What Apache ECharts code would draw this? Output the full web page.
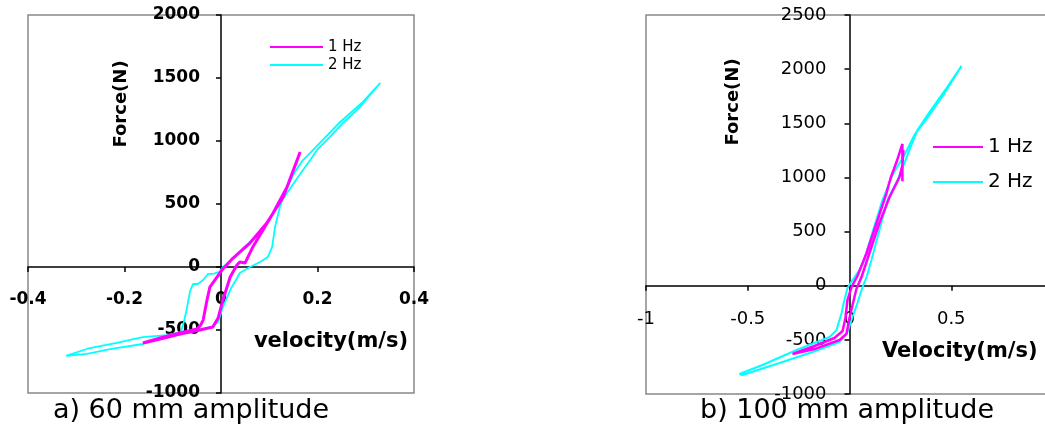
<!DOCTYPE html>
<html>
<head>
<meta charset="utf-8">
<script src="https://cdn.jsdelivr.net/npm/echarts@6/dist/echarts.min.js"></script>
<style>
  html, body { margin: 0; padding: 0; background: #fff; }
  #chart { width: 1045px; height: 445px; }
</style>
</head>
<body>
<div id="chart"></div>
<script>
// a) 60 mm amplitude -- velocity (m/s) / force (N), read off the loops
const leftVel2Hz = [0.330, 0.294, 0.247, 0.211, 0.185, 0.170, 0.153, 0.137, 0.122, 0.112, 0.106, 0.097, 0.081, 0.060, 0.039, 0.031, 0.021, 0.010, 0.002, -0.006, -0.019, -0.044, -0.081, -0.126, -0.162, -0.230, -0.278, -0.321,
  -0.272, -0.216, -0.162, -0.112, -0.083, -0.077, -0.071, -0.064, -0.058, -0.048, -0.037, -0.027, -0.015, -0.004, 0.004, 0.029, 0.046, 0.081, 0.108, 0.137, 0.164, 0.185, 0.199, 0.226, 0.253, 0.288, 0.330]
const leftForce2Hz = [1460, 1310, 1151, 1008, 905, 849, 754, 635, 476, 317, 159, 79, 40, 0, -48, -103, -167, -262, -341, -437, -476, -496, -532, -571, -611, -651, -690, -706,
  -643, -603, -556, -540, -516, -437, -333, -190, -135, -135, -103, -56, -52, -40, 0, 79, 151, 270, 429, 587, 738, 849, 929, 1032, 1143, 1270, 1460]
const leftVel1Hz = [0.164, 0.137, 0.108, 0.087, 0.066, 0.050, 0.039, 0.033, 0.019, 0.004, -0.006, -0.017, -0.044, -0.085, -0.126, -0.162,
  -0.126, -0.085, -0.050, -0.042, -0.037, -0.029, -0.023, -0.008, 0.002, 0.025, 0.060, 0.095, 0.129, 0.164]
const leftForce1Hz = [913, 635, 429, 294, 159, 32, 40, 16, -79, -262, -405, -476, -500, -532, -571, -603,
  -564, -524, -492, -460, -421, -262, -159, -79, -24, 71, 190, 349, 556, 913]

// b) 100 mm amplitude
const rightVel2Hz = [-0.541, -0.428, -0.260, -0.098, -0.064, -0.039, -0.025, -0.010, 0.015, 0.049, 0.069, 0.113, 0.162, 0.211, 0.270, 0.319, 0.383, 0.467, 0.550,
  0.477, 0.393, 0.334, 0.300, 0.270, 0.236, 0.187, 0.147, 0.108, 0.084, 0.064, 0.039, 0.015, -0.010, -0.049, -0.182, -0.344, -0.526, -0.541]
const rightForce2Hz = [-815, -732, -594, -474, -410, -252, -132, -21, 53, 145, 219, 496, 791, 1022, 1207, 1392, 1549, 1779, 2028,
  1826, 1604, 1438, 1281, 1133, 976, 791, 514, 237, 80, -12, -160, -289, -428, -520, -612, -714, -825, -815]
const rightVel1Hz = [0.260, 0.260, 0.231, 0.202, 0.182, 0.133, 0.084, 0.039, 0.010, -0.010, -0.020, -0.034, -0.074, -0.172, -0.280,
  -0.172, -0.049, -0.015, 0.000, 0.015, 0.034, 0.059, 0.098, 0.147, 0.197, 0.246, 0.260, 0.265]
const rightForce1Hz = [965, 1309, 1142, 995, 856, 579, 302, 90, -12, -132, -298, -418, -483, -557, -631,
  -585, -501, -446, -298, -178, -31, 80, 302, 579, 819, 1004, 1114, 1253]

// axis ranges [min, max, interval]
const leftXRange = [-0.4, 0.4, 0.2]
const leftYRange = [-1000, 2000, 500]
const rightXRange = [-1, 1, 0.5]
const rightYRange = [-1000, 2500, 500]

const seriesNames = ['1 Hz', '2 Hz']
const captions = ['a) 60 mm amplitude', 'b) 100 mm amplitude']

const MAGENTA = '#FF00FF'
const CYAN = '#00FFFF'
const FONT = 'DejaVu Sans'

const grids = [
  { left: 28, top: 15, width: 386, height: 378 },
  { left: 646, top: 15, width: 407, height: 379 },
]

const zip = (xs, ys) => xs.map((x, i) => [x, ys[i]])

// axes cross at zero: shift the axis from the grid edge into the plot
const zeroOffsetX = (g, r) => -g.width * (0 - r[0]) / (r[1] - r[0])
const zeroOffsetY = (g, r) => -g.height * (0 - r[0]) / (r[1] - r[0])

const makeAxis = (range, gridIndex, offset, label) => ({
  type: 'value',
  gridIndex,
  min: range[0],
  max: range[1],
  interval: range[2],
  offset,
  axisLine: { onZero: false, lineStyle: { color: '#000', width: 1.5 } },
  axisTick: { length: 5, lineStyle: { color: '#000', width: 1.5 } },
  splitLine: { show: false },
  axisLabel: Object.assign({ color: '#000', fontFamily: FONT, formatter: (v) => String(v) }, label),
})

const lineSeries = (name, color, width, xi, data) => ({
  name,
  type: 'line',
  xAxisIndex: xi,
  yAxisIndex: xi,
  data,
  showSymbol: false,
  symbol: 'none',
  color,
  itemStyle: { color },
  lineStyle: { color, width },
})

const chart = echarts.init(document.getElementById('chart'))

chart.setOption({
  animation: false,
  backgroundColor: '#fff',
  grid: grids.map((g) => Object.assign({
    show: true, borderColor: '#888', borderWidth: 1.5, containLabel: false, outerBoundsMode: 'none',
  }, g)),
  xAxis: [
    makeAxis(leftXRange, 0, zeroOffsetY(grids[0], leftYRange), { fontSize: 17, fontWeight: 'bold', margin: 24 }),
    makeAxis(rightXRange, 1, zeroOffsetY(grids[1], rightYRange), { fontSize: 18, margin: 25 }),
  ],
  yAxis: [
    makeAxis(leftYRange, 0, zeroOffsetX(grids[0], leftXRange), { fontSize: 17, fontWeight: 'bold', margin: 21 }),
    makeAxis(rightYRange, 1, zeroOffsetX(grids[1], rightXRange), { fontSize: 18, margin: 23 }),
  ],
  legend: [
    {
      data: seriesNames, left: 270, top: 39, orient: 'vertical', icon: 'rect',
      itemWidth: 53, itemHeight: 2, itemGap: 2, padding: 0,
      textStyle: { fontFamily: FONT, fontSize: 15, lineHeight: 16, color: '#000' },
    },
    {
      data: seriesNames, left: 933, top: 136, orient: 'vertical', icon: 'rect',
      itemWidth: 50, itemHeight: 2, itemGap: 13, padding: 0,
      textStyle: { fontFamily: FONT, fontSize: 20, lineHeight: 22, color: '#000' },
    },
  ],
  series: [
    lineSeries('2 Hz', CYAN, 1.8, 0, zip(leftVel2Hz, leftForce2Hz)),
    lineSeries('1 Hz', MAGENTA, 3, 0, zip(leftVel1Hz, leftForce1Hz)),
    lineSeries('2 Hz', CYAN, 2, 1, zip(rightVel2Hz, rightForce2Hz)),
    lineSeries('1 Hz', MAGENTA, 2.5, 1, zip(rightVel1Hz, rightForce1Hz)),
  ],
  graphic: [
    {
      type: 'text', x: 121, y: 104, rotation: Math.PI / 2,
      style: { text: 'Force(N)', font: `bold 18px "${FONT}"`, fill: '#000', textAlign: 'center', textVerticalAlign: 'middle' },
    },
    {
      type: 'text', x: 331, y: 342,
      style: { text: 'velocity(m/s)', font: `bold 21px "${FONT}"`, fill: '#000', textAlign: 'center', textVerticalAlign: 'middle' },
    },
    {
      type: 'text', x: 733, y: 102, rotation: Math.PI / 2,
      style: { text: 'Force(N)', font: `bold 18px "${FONT}"`, fill: '#000', textAlign: 'center', textVerticalAlign: 'middle' },
    },
    {
      type: 'text', x: 882, y: 352,
      style: { text: 'Velocity(m/s)', font: `bold 21px "${FONT}"`, fill: '#000', textAlign: 'left', textVerticalAlign: 'middle' },
    },
    // white band under the plots, it cuts the -1000 labels like in the figure
    { type: 'rect', z: 100, shape: { x: 0, y: 400, width: 1045, height: 45 }, style: { fill: '#fff' } },
    {
      type: 'text', z: 101, x: 191, y: 411,
      style: { text: captions[0], font: `27px "${FONT}"`, fill: '#000', textAlign: 'center', textVerticalAlign: 'middle' },
    },
    {
      type: 'text', z: 101, x: 847, y: 411,
      style: { text: captions[1], font: `27px "${FONT}"`, fill: '#000', textAlign: 'center', textVerticalAlign: 'middle' },
    },
  ],
})
</script>
</body>
</html>
